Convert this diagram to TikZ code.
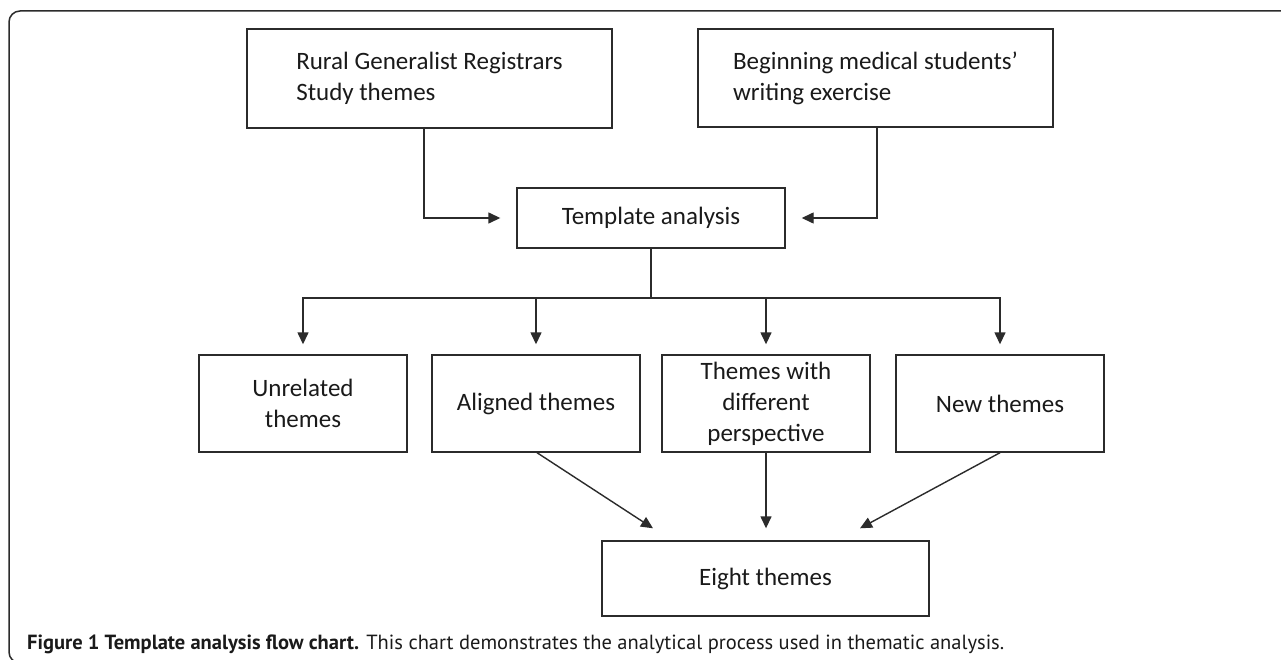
\documentclass[tikz,border=0pt]{standalone}
\usepackage{fontspec}
\setmainfont{Carlito}
\newfontfamily\capfont{PT Sans}
\usetikzlibrary{arrows.meta}
\definecolor{ln}{HTML}{2B2B2B}
\definecolor{tx}{HTML}{1A1A1A}
\tikzset{
  box/.style={draw=ln, line width=1.4pt, inner sep=0pt, text=tx,
    font=\fontsize{25}{31}\selectfont, align=center},
  arr/.style={draw=ln, line width=1.4pt, -{Triangle[length=12pt,width=11pt]}},
  plain/.style={draw=ln, line width=1.4pt},
}
\begin{document}
\begin{tikzpicture}[x=1pt,y=-1pt]
\path[use as bounding box, clip] (0,0) rectangle (1281,660);
\fill[white] (0,0) rectangle (1281,660);
% frame
\draw[line width=1.5pt, draw=ln, rounded corners=11pt] (1300,11) -- (9,11) -- (9,663) -- (60,663);

% top boxes
\node[box, minimum width=365pt, minimum height=99pt, align=left] (r1) at (429.5,78.5)
  {Rural Generalist Registrars\\Study themes};
\node[box, minimum width=355pt, minimum height=98pt, align=left] (r2) at (875.5,78)
  {Beginning medical students'\\writing exercise};
\node[box, minimum width=268pt, minimum height=60pt] (ta) at (651,218) {Template analysis};

% middle row
\node[box, minimum width=208pt, minimum height=97pt] (u)  at (303,403.5) {Unrelated\\themes};
\node[box, minimum width=208pt, minimum height=97pt] (al) at (536,403.5) {Aligned themes};
\node[box, minimum width=208pt, minimum height=97pt] (tw) at (766,403.5) {Themes with\\different\\perspective};
\node[box, minimum width=208pt, minimum height=97pt] (nt) at (1000,403.5) {New themes};

% bottom
\node[box, minimum width=327pt, minimum height=75pt] (et) at (765.5,578.5) {Eight themes};

% connectors top
\draw[arr] ([xshift=-5.5pt]r1.south) |- ([xshift=-16pt]ta.west);
\draw[arr] ([xshift=1.5pt]r2.south) |- ([xshift=16pt]ta.east);

% bus
\coordinate (bus) at (651,298);
\draw[plain] (ta.south) -- (bus);
\draw[arr] (bus) -| ([yshift=10pt]u.north);
\draw[arr] (bus) -| ([yshift=10pt]al.north);
\draw[arr] (bus) -| ([yshift=10pt]tw.north);
\draw[arr] (bus) -| ([yshift=10pt]nt.north);

% to eight themes
\path (tw.south |- et.north) ++(0,-12) coordinate (twtip);
\draw[arr] ([xshift=1pt]al.south) -- ([xshift=-112.5pt,yshift=12pt]et.north);
\draw[arr] (tw.south) -- (twtip);
\draw[arr] (nt.south) -- ([xshift=94.5pt,yshift=12pt]et.north);

% caption
\node[anchor=base west, inner sep=0pt, text=tx] (cap) at (27,649)
  {\resizebox{977pt}{!}{\capfont\fontsize{17}{20}\selectfont\textbf{Figure 1 Template analysis flow chart.} This chart demonstrates the analytical process used in thematic analysis.}};
\end{tikzpicture}
\end{document}
